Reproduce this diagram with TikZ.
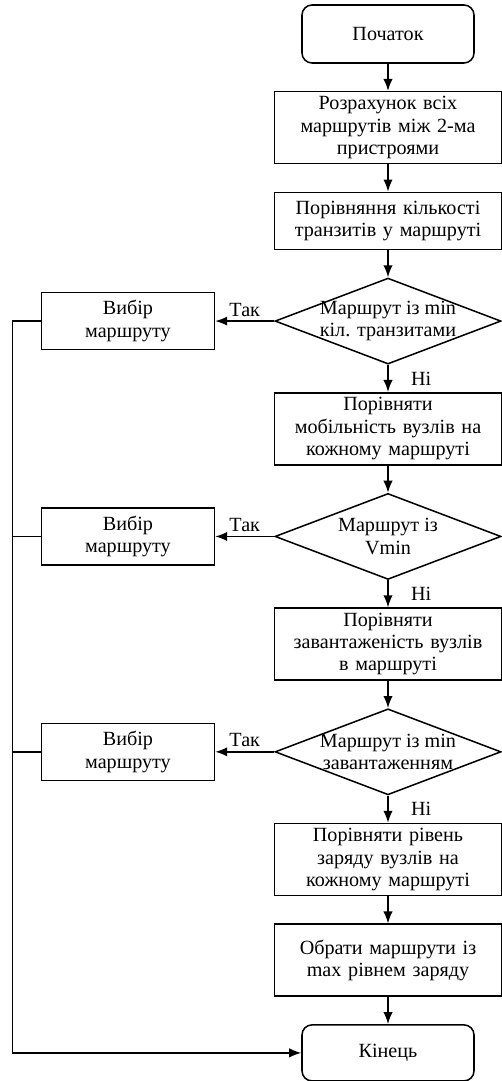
\documentclass[tikz,border=0pt]{standalone}
\usepackage{fontspec}
\setmainfont{Liberation Serif}
\usetikzlibrary{shapes.geometric, arrows.meta, positioning}

\begin{document}
\begin{tikzpicture}[node distance=0.815cm, >={Latex[length=3.6mm,width=2.8mm]}, line width=1.3pt,
    every node/.style={font=\fontsize{17.2}{19}\selectfont},
    term/.style={draw, rectangle, rounded corners=0.3cm, minimum width=5.16cm, minimum height=1.74cm, align=center},
    proc/.style={draw, rectangle, minimum width=6.8cm, minimum height=2.16cm, text width=6.6cm, inner sep=0pt, align=center},
    decision/.style={draw, diamond, minimum width=6.78cm, minimum height=2.58cm, inner sep=0pt},
    pick/.style={draw, rectangle, minimum width=5.19cm, minimum height=1.71cm, align=center}]
    \useasboundingbox (0,0) rectangle (15.03,-32.43);

    \node [term] (start) at (11.64,-1.02) {Початок};
    \node [proc, below=of start] (calc) {Розрахунок всіх\\маршрутів між 2-ма\\пристроями};
    \node [proc, minimum height=1.71cm, below=of calc] (cmp) {Порівняння кількості\\транзитів у маршруті};
    \node [decision, below=of cmp, label={[align=center]center:Маршрут із min\\кіл. транзитами}] (dec1) {};
    \node [pick, left=1.77cm of dec1] (sel1) {Вибір\\маршруту};

    \node [proc, below=of dec1] (mob) {Порівняти\\мобільність вузлів на\\кожному маршруті};
    \node [decision, below=of mob, label={[align=center]center:Маршрут із\\Vmin}] (dec2) {};
    \node [pick, left=1.77cm of dec2] (sel2) {Вибір\\маршруту};

    \node [proc, below=of dec2] (load) {Порівняти\\завантаженість вузлів\\в маршруті};
    \node [decision, below=of load, label={[align=center]center:Маршрут із min\\завантаженням}] (dec3) {};
    \node [pick, left=1.77cm of dec3] (sel3) {Вибір\\маршруту};

    \node [proc, below=of dec3] (chg) {Порівняти рівень\\заряду вузлів на\\кожному маршруті};
    \node [proc, below=of chg] (best) {Обрати маршрути із\\max рівнем заряду};
    \node [term, minimum height=1.68cm, below=of best] (end) {Кінець};

    \draw [->] (start) -- (calc);
    \draw [->] (calc) -- (cmp);
    \draw [->] (cmp) -- (dec1);
    \draw [->] (dec1) -- node[above] {Так} (sel1);
    \draw [->] (dec1) -- node[right=0.55cm] {Ні} (mob);
    \draw [->] (mob) -- (dec2);
    \draw [->] (dec2) -- node[above] {Так} (sel2);
    \draw [->] (dec2) -- node[right=0.55cm] {Ні} (load);
    \draw [->] (load) -- (dec3);
    \draw [->] (dec3) -- node[above] {Так} (sel3);
    \draw [->] (dec3) -- node[right=0.55cm] {Ні} (chg);
    \draw [->] (chg) -- (best);
    \draw [->] (best) -- (end);
    \draw [->] (sel1.west) -- ++(-0.84,0) |- (end.west);
    \draw (sel2.west) -- ++(-0.84,0);
    \draw (sel3.west) -- ++(-0.84,0);
\end{tikzpicture}
\end{document}
